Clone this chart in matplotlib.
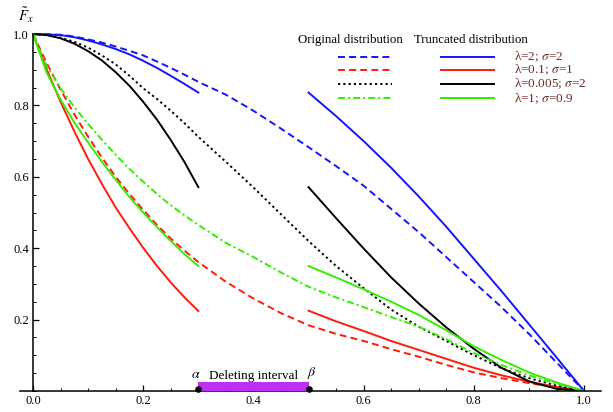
import matplotlib
matplotlib.use('Agg')
import matplotlib.pyplot as plt
from matplotlib.ticker import MultipleLocator, FormatStrFormatter

plt.rcParams['font.family'] = ['Liberation Serif', 'DejaVu Serif']
plt.rcParams['mathtext.fontset'] = 'stix'
plt.rcParams['lines.scale_dashes'] = False

# full range for the original distributions (finer steps where curves bend most)
x_full = [0.0, 0.025, 0.05, 0.075, 0.1, 0.125, 0.15, 0.175, 0.2, 0.225, 0.25, 0.275, 0.3,
          0.35, 0.4, 0.45, 0.5, 0.55, 0.6, 0.65, 0.7, 0.75, 0.8, 0.85, 0.9, 0.95, 1.0]
# truncated distribution lives on [0, alpha] and [beta, 1]
x_left = [0.0, 0.025, 0.05, 0.075, 0.1, 0.125, 0.15, 0.175, 0.2, 0.225, 0.25, 0.275, 0.3]
x_right = [0.5, 0.55, 0.6, 0.65, 0.7, 0.75, 0.8, 0.85, 0.9, 0.95, 1.0]

alpha, beta = 0.3, 0.5

labels = [r'λ=2; $\sigma$=2', r'λ=0.1; $\sigma$=1', r'λ=0.005; $\sigma$=2', r'λ=1; $\sigma$=0.9']
colors = ['#1414ff', '#ff1a0a', 'black', '#33ee00']

orig_blue = [1.0, 0.999, 0.998, 0.993, 0.985, 0.976, 0.965, 0.953, 0.94, 0.923, 0.905, 0.886, 0.866,
             0.83, 0.785, 0.735, 0.683, 0.63, 0.575, 0.51, 0.445, 0.375, 0.305, 0.235, 0.16, 0.08, 0.0]
orig_red = [1.0, 0.918, 0.844, 0.775, 0.712, 0.654, 0.60, 0.552, 0.507, 0.465, 0.427, 0.393, 0.361,
            0.306, 0.259, 0.218, 0.184, 0.16, 0.14, 0.117, 0.096, 0.073, 0.052, 0.036, 0.022, 0.01, 0.0]
orig_black = [1.0, 0.997, 0.99, 0.978, 0.962, 0.94, 0.915, 0.883, 0.848, 0.818, 0.785, 0.75, 0.712,
              0.642, 0.57, 0.495, 0.42, 0.35, 0.288, 0.228, 0.18, 0.14, 0.1, 0.064, 0.036, 0.015, 0.0]
orig_green = [1.0, 0.91, 0.848, 0.795, 0.748, 0.704, 0.662, 0.622, 0.586, 0.552, 0.52, 0.492, 0.465,
              0.415, 0.375, 0.332, 0.292, 0.262, 0.235, 0.207, 0.18, 0.145, 0.106, 0.073, 0.044, 0.02, 0.0]

trunc_left_blue = [1.0, 0.999, 0.997, 0.991, 0.982, 0.971, 0.958, 0.943, 0.925, 0.905, 0.883, 0.86, 0.836]
trunc_left_red = [1.0, 0.90, 0.81, 0.727, 0.65, 0.58, 0.514, 0.456, 0.401, 0.35, 0.304, 0.262, 0.224]
trunc_left_black = [1.0, 0.997, 0.988, 0.973, 0.952, 0.926, 0.893, 0.855, 0.81, 0.76, 0.703, 0.641, 0.571]
trunc_left_green = [1.0, 0.891, 0.816, 0.752, 0.696, 0.642, 0.592, 0.543, 0.50, 0.459, 0.42, 0.383, 0.35]

trunc_right_blue = [0.836, 0.77, 0.70, 0.625, 0.545, 0.46, 0.37, 0.28, 0.187, 0.094, 0.0]
trunc_right_red = [0.225, 0.195, 0.168, 0.14, 0.115, 0.09, 0.065, 0.044, 0.026, 0.011, 0.0]
trunc_right_black = [0.571, 0.484, 0.399, 0.318, 0.245, 0.178, 0.118, 0.065, 0.027, 0.006, 0.0]
trunc_right_green = [0.35, 0.318, 0.285, 0.25, 0.213, 0.17, 0.125, 0.087, 0.052, 0.024, 0.0]

originals = [orig_blue, orig_red, orig_black, orig_green]
trunc_left = [trunc_left_blue, trunc_left_red, trunc_left_black, trunc_left_green]
trunc_right = [trunc_right_blue, trunc_right_red, trunc_right_black, trunc_right_green]
dash_styles = [(0, (5, 3)), (0, (5, 3)), (0, (1.6, 2.2)), (0, (5, 2.2, 1.5, 2.2))]

fig = plt.figure(figsize=(6.13, 4.12), dpi=100)
ax = fig.add_axes([0.0323, 0.051, 0.9475, 0.869])
lw = 1.4

for i in range(4):
    ax.plot(x_full, originals[i], color=colors[i], lw=lw, linestyle=dash_styles[i])
    ax.plot(x_left, trunc_left[i], color=colors[i], lw=lw)
    ax.plot(x_right, trunc_right[i], color=colors[i], lw=lw)

# deleting interval
ax.bar((alpha + beta) / 2, 0.025, width=beta - alpha, color='#bf2ff0', zorder=3)
ax.scatter([alpha, beta], [0.006, 0.006], s=14, color='black', zorder=4, clip_on=False)
ax.text(alpha - 0.004, 0.027, r'$\alpha$', fontsize=10, ha='center', va='bottom')
ax.text(0.4, 0.026, 'Deleting interval', fontsize=9.5, ha='center', va='bottom')
ax.text(beta + 0.006, 0.027, r'$\beta$', fontsize=10, ha='center', va='bottom')

ax.set_xlim(-0.024, 1.03)
ax.set_ylim(0, 1.003)
ax.spines['left'].set_position(('data', 0))
ax.spines['bottom'].set_position(('data', 0))
ax.spines['top'].set_visible(False)
ax.spines['right'].set_visible(False)
ax.spines['left'].set_bounds(0, 1.0)
for s in ('left', 'bottom'):
    ax.spines[s].set_linewidth(1.1)

ax.xaxis.set_major_locator(MultipleLocator(0.2))
ax.xaxis.set_minor_locator(MultipleLocator(0.05))
ax.yaxis.set_major_locator(MultipleLocator(0.2))
ax.yaxis.set_minor_locator(MultipleLocator(0.05))
ax.xaxis.set_major_formatter(FormatStrFormatter('%.1f'))
ax.yaxis.set_major_formatter(FormatStrFormatter('%.1f'))
ax.tick_params(which='major', direction='in', length=4, width=0.9, labelsize=9, pad=3)
ax.tick_params(which='minor', direction='in', length=2.2, width=0.7)
ax.set_xticks([0.0, 0.2, 0.4, 0.6, 0.8, 1.0])
ax.set_yticks([0.2, 0.4, 0.6, 0.8, 1.0])

fig.text(0.03, 0.963, r'$\tilde{F}_x$', fontsize=10.5, ha='left', va='center')

# hand-made legend
fig.text(350 / 613, 1 - 40 / 412, 'Original distribution', fontsize=9.3, ha='center', va='center')
fig.text(471 / 613, 1 - 40 / 412, 'Truncated distribution', fontsize=9.3, ha='center', va='center')
rows = [56.7, 70, 83.5, 98.3]
for i in range(4):
    yy = 1 - rows[i] / 412
    fig.add_artist(plt.Line2D([338 / 613, 392 / 613], [yy, yy], color=colors[i], lw=lw,
                              linestyle=dash_styles[i]))
    fig.add_artist(plt.Line2D([441 / 613, 494 / 613], [yy, yy], color=colors[i], lw=lw))
    fig.text(514 / 613, yy, labels[i], fontsize=9.5, color='#6e2a2a', ha='left', va='center')

fig.savefig('out.png', dpi=100)
